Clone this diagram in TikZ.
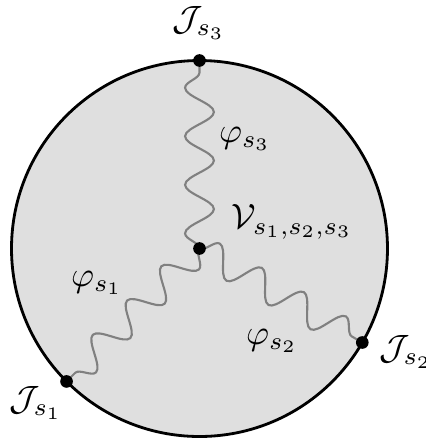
\documentclass[tikz,border=0pt]{standalone}
\usetikzlibrary{calc,decorations.pathmorphing}
\begin{document}
\begin{tikzpicture}[x=0.01cm, y=-0.01cm,
  dot/.style={circle, fill=black, inner sep=0pt, minimum size=3.6pt},
  wavy/.style={draw=gray, line width=0.6pt, decorate,
    decoration={snake, amplitude=4.1pt, segment length=13.8pt}}
]
\useasboundingbox (0,0) rectangle (426,441);
\coordinate (c) at (199.5,248.5);
\draw[line width=0.8pt, fill=gray!25] (c) circle (188);
\coordinate (p3) at ($(c)+(-90:188)$);
\coordinate (p1) at ($(c)+(135:188)$);
\coordinate (p2) at ($(c)+(30:188)$);
\draw[wavy] (c) -- (p3);
\draw[wavy] (c) -- (p1);
\draw[wavy] (c) -- (p2);
\node[dot] (v) at (c) {};
\node[dot] (j1) at (p1) {};
\node[dot] (j2) at (p2) {};
\node[dot] (j3) at (p3) {};
\node (lj3) at (199,23) {$\mathcal{J}_{s_3}$};
\node (lj1) at (36,403) {$\mathcal{J}_{s_1}$};
\node (lj2) at (406,352) {$\mathcal{J}_{s_2}$};
\node (lv) at (292,222) {$\mathcal{V}_{s_1,s_2,s_3}$};
\node (lp3) at (245,139) {$\varphi_{s_3}$};
\node (lp1) at (97,283) {$\varphi_{s_1}$};
\node (lp2) at (272,341) {$\varphi_{s_2}$};
\end{tikzpicture}
\end{document}
